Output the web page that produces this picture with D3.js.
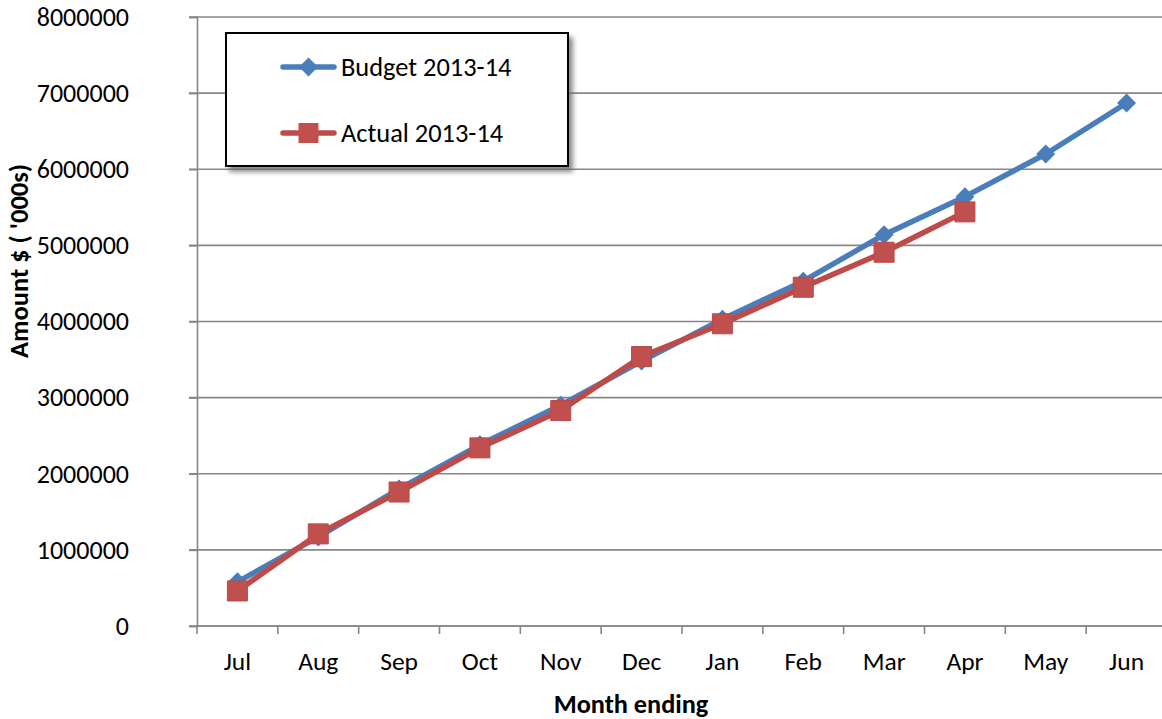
<!DOCTYPE html>
<html>
<head>
<meta charset="utf-8">
<script src="https://cdn.jsdelivr.net/npm/d3@7/dist/d3.min.js"></script>
<style>
  html, body { margin: 0; padding: 0; background: #fff; }
  svg { display: block; }
  text { font-family: Carlito, Lato, "Open Sans", sans-serif; fill: #000; }
</style>
</head>
<body>
<svg id="chart" width="1162" height="719"></svg>
<script>
// Monthly cumulative amounts, $ '000s
const months = ["Jul", "Aug", "Sep", "Oct", "Nov", "Dec", "Jan", "Feb", "Mar", "Apr", "May", "Jun"];
const budget = [580000, 1170000, 1800000, 2380000, 2900000, 3480000, 4030000, 4530000, 5140000, 5640000, 6200000, 6870000];
const actual = [460000, 1210000, 1760000, 2340000, 2830000, 3540000, 3970000, 4450000, 4910000, 5440000];
const yTicks = [0, 1000000, 2000000, 3000000, 4000000, 5000000, 6000000, 7000000, 8000000];
const seriesNames = ["Budget 2013-14", "Actual 2013-14"];

const W = 1162, H = 719;
const plot = { left: 197, right: 1167, top: 17, bottom: 626 };
const gridColor = "#878787";
const blue = "#4a7ebb", red = "#be4b48";
const labelSize = "26px";

const svg = d3.select("#chart");

const defs = svg.append("defs");
const shadow = defs.append("filter").attr("id", "legendShadow")
  .attr("x", "-10%").attr("y", "-10%").attr("width", "130%").attr("height", "140%");
shadow.append("feDropShadow").attr("dx", 4).attr("dy", 5)
  .attr("stdDeviation", 2.5).attr("flood-color", "#666").attr("flood-opacity", 0.75);

const x = d3.scaleBand().domain(months).range([plot.left, plot.right]);
const y = d3.scaleLinear().domain([0, 8000000]).range([plot.bottom, plot.top]);

// horizontal gridlines
svg.append("g").selectAll("line").data(yTicks).join("line")
  .attr("x1", plot.left - 8).attr("x2", W)
  .attr("y1", d => y(d)).attr("y2", d => y(d))
  .attr("stroke", gridColor).attr("stroke-width", 1.6);

// y axis
const yAxis = svg.append("g").attr("transform", `translate(${plot.left},0)`)
  .call(d3.axisLeft(y).tickValues(yTicks).tickFormat(d3.format("d")).tickSize(8).tickPadding(60));
yAxis.select(".domain").attr("stroke", gridColor).attr("stroke-width", 1.6);
yAxis.selectAll(".tick line").attr("stroke", gridColor).attr("stroke-width", 1.6);
yAxis.selectAll(".tick text").style("font-size", labelSize).attr("fill", "#000");

// x axis with ticks on category boundaries
const xAxis = svg.append("g").attr("transform", `translate(0,${plot.bottom})`)
  .call(d3.axisBottom(x).tickSize(0).tickPadding(26));
xAxis.select(".domain").remove();
xAxis.selectAll(".tick text").style("font-size", "25.5px").attr("fill", "#000");
svg.append("line")
  .attr("x1", plot.left).attr("x2", W)
  .attr("y1", plot.bottom).attr("y2", plot.bottom)
  .attr("stroke", gridColor).attr("stroke-width", 1.6);
svg.append("g").selectAll("line").data(months).join("line")
  .attr("x1", d => x(d)).attr("x2", d => x(d))
  .attr("y1", plot.bottom).attr("y2", plot.bottom + 8)
  .attr("stroke", gridColor).attr("stroke-width", 1.6);

// axis titles
svg.append("text")
  .attr("x", 631).attr("y", 713)
  .attr("text-anchor", "middle")
  .style("font-size", "26.3px").style("font-weight", "bold")
  .text("Month ending");
svg.append("text")
  .attr("transform", "translate(28,261) rotate(-90)")
  .attr("text-anchor", "middle")
  .style("font-size", "26.5px").style("font-weight", "bold")
  .text("Amount $ ( '000s)");

const line = d3.line()
  .x((d, i) => x(months[i]) + x.bandwidth() / 2)
  .y(d => y(d));

const diamond = d3.symbol().type(d3.symbolSquare).size(180);
const square = d3.symbol().type(d3.symbolSquare).size(400);

// budget series
svg.append("path").datum(budget)
  .attr("d", line).attr("fill", "none")
  .attr("stroke", blue).attr("stroke-width", 5.5).attr("stroke-linejoin", "round");
svg.append("g").selectAll("path").data(budget).join("path")
  .attr("d", diamond)
  .attr("transform", (d, i) => `translate(${x(months[i]) + x.bandwidth() / 2},${y(d)}) rotate(45)`)
  .attr("fill", blue);

// actual series
svg.append("path").datum(actual)
  .attr("d", line).attr("fill", "none")
  .attr("stroke", red).attr("stroke-width", 5.5).attr("stroke-linejoin", "round");
svg.append("g").selectAll("path").data(actual).join("path")
  .attr("d", square)
  .attr("transform", (d, i) => `translate(${x(months[i]) + x.bandwidth() / 2},${y(d)})`)
  .attr("fill", "#c0504d").attr("stroke", "#b9494a").attr("stroke-width", 1);

// legend
const legend = svg.append("g");
legend.append("rect")
  .attr("x", 226).attr("y", 33).attr("width", 342).attr("height", 133)
  .attr("fill", "#fff").attr("stroke", "#000").attr("stroke-width", 2)
  .attr("filter", "url(#legendShadow)");
const rows = [
  { name: seriesNames[0], color: blue, sym: diamond, rot: 45, y: 67 },
  { name: seriesNames[1], color: red, sym: square, rot: 0, y: 133 }
];
rows.forEach(r => {
  legend.append("line")
    .attr("x1", 283).attr("x2", 334).attr("y1", r.y).attr("y2", r.y)
    .attr("stroke", r.color).attr("stroke-width", 5.5).attr("stroke-linecap", "round");
  legend.append("path")
    .attr("d", r.sym)
    .attr("transform", `translate(308.5,${r.y}) rotate(${r.rot})`)
    .attr("fill", r.rot ? r.color : "#c0504d");
  legend.append("text")
    .attr("x", 341).attr("y", r.y + 9)
    .style("font-size", "26.4px")
    .text(r.name);
});
</script>
</body>
</html>
